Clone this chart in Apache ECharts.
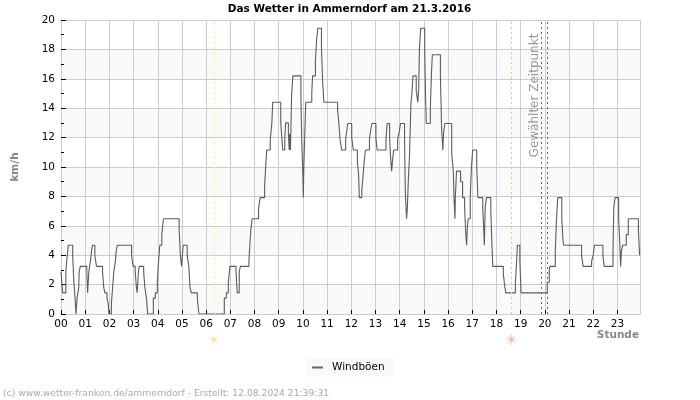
<!DOCTYPE html>
<html><head><meta charset="utf-8">
<style>html,body{margin:0;padding:0;background:#fff}#c{width:700px;height:400px}</style>
<script src="https://cdn.jsdelivr.net/npm/echarts@6/dist/echarts.min.js"></script></head>
<body><div id="c"></div>
<script>
const titleText = 'Das Wetter in Ammerndorf am 21.3.2016';
const seriesName = 'Windböen';
const footerText = '(c) www.wetter-franken.de/ammerndorf - Erstellt: 12.08.2024 21:39:31';
const markerLabel = 'Gewählter Zeitpunkt';
const sunrise = 379, sunset = 1117, selectedA = 1192, selectedB = 1205;
// minutes of the day at which the gust reading changes
const minutes = [0,4,12,14,17,18,29,32,35,37,40,44,45,48,64,66,69,73,76,78,84,88,103,106,109,114,117,119,
125,128,131,135,137,140,175,179,184,187,189,192,194,205,208,212,215,229,234,239,241,245,250,254,293,296,299,301,303,313,317,320,323,338,342,
405,410,415,419,434,437,442,445,466,469,471,474,490,494,505,507,510,519,523,525,545,548,550,555,557,564,566,567,569,572,575,595,597,600,601,602,605,607,622,624,631,634,637,646,649,652,
686,689,692,696,706,709,711,721,725,735,738,740,746,749,752,755,765,768,771,781,784,806,809,815,817,820,822,825,835,839,842,852,854,857,859,862,864,868,870,873,881,885,887,889,892,902,904,906,916,919,921,941,944,947,949,952,
969,973,975,977,978,981,991,996,1001,1004,1006,1008,1010,1015,1018,1021,1031,1034,1046,1049,1050,1052,1055,1066,1069,1071,1097,1101,1103,1127,1130,1132,1138,1141,1206,1211,1212,1226,1229,1232,1242,1245,1247,1291,1295,1316,1320,1323,1344,1347,1369,1371,1374,1383,1386,1388,1390,1393,1402,1407,1432,1435];
const gusts = [2.88,1.44,2.88,3.6,4.32,4.68,3.96,2.16,1.08,0,1.08,1.8,2.88,3.24,2.88,1.44,2.88,3.6,4.32,4.68,3.96,3.24,2.88,1.8,1.44,1.08,0.72,0,
0.72,1.8,2.88,3.6,4.32,4.68,3.96,3.24,2.88,1.8,1.44,2.88,3.24,2.88,1.8,1.08,0,1.08,1.44,2.16,3.24,4.68,5.4,6.48,5.76,4,3.24,4,4.68,3.96,3.24,1.8,1.44,1.08,0,
1.08,1.44,2.16,3.24,2.88,1.44,2.88,3.24,3.6,5,5.76,6.48,7.2,7.92,8.7,9.72,11.16,11.88,13,14.4,13,11.88,11.16,11.88,13,12.24,11.16,12.24,11.16,14.9,16.2,14.8,11.9,9.36,7.92,9.72,12.6,14.4,15.1,16.2,17.2,18.7,19.44,18,15.8,14.4,
13.9,13,11.9,11.16,11.9,12.5,12.96,12,11.16,10.4,9.5,7.92,8.4,9.36,10.4,11.16,11.9,12.5,12.96,12,11.16,11.9,12.96,12,10.8,9.72,10.4,11.16,11.9,12.4,12.96,11.9,8.3,6.48,7.2,9.5,10.5,14.4,14.9,16.2,15.2,14.4,15.2,18,19.44,18,15,12.96,14,16.5,17.64,16.2,12.6,11.16,12.4,12.96,
10.9,9.72,7.7,6.48,7.92,9.72,9,7.92,7.2,5.4,4.68,6,6.48,7.92,10,11.16,10,7.92,7.2,5.4,4.68,7.2,7.92,7,4.5,3.24,2.7,1.8,1.44,2.1,3.6,4.68,3.6,1.44,2.16,2.88,3.24,4.32,6.5,7.92,6.5,5,4.68,4,3.24,3.6,4,4.68,4,3.24,4.32,7.2,7.92,6.5,4.68,3.24,4.3,4.68,5.4,6.48,5.76,4];
const points = minutes.map((m,i)=>[m,gusts[i]]);
const chart = echarts.init(document.getElementById('c'),null,{renderer:'canvas'});
const FONT='DejaVu Sans';
function vline(x,color){return {xAxis:x,lineStyle:{color:color,type:[2,3],width:1}};}
chart.setOption({
  animation:false,
  backgroundColor:'#fff',
  title:[
    {text:titleText,left:349.5,textAlign:'center',top:4,padding:0,textStyle:{fontFamily:FONT,fontSize:10.5,fontWeight:'bold',color:'#000'}},
    {text:footerText,left:3,top:389,padding:0,textStyle:{fontFamily:FONT,fontSize:9.2,fontWeight:'normal',color:'#aaa'}}
  ],
  legend:{data:[{name:seriesName,icon:'rect',itemStyle:{color:'#666'}}],left:307,top:358,itemWidth:11,itemHeight:2,itemGap:4,
    padding:[4,9,4,5],backgroundColor:'#f9f9f9',textStyle:{fontFamily:FONT,fontSize:10.5,color:'#000',padding:[0,0,0,4]}},
  grid:{left:61,right:60,top:20,bottom:86},
  xAxis:{type:'value',min:0,max:1436,interval:60,
    name:'Stunde',nameLocation:'end',nameGap:0,
    nameTextStyle:{fontFamily:FONT,fontSize:10.5,fontWeight:'bold',color:'#888',align:'right',verticalAlign:'top',padding:[16,1,0,0]},
    axisLine:{show:true,lineStyle:{color:'#ccc'}},
    axisTick:{show:true,inside:true,length:4,lineStyle:{color:'#000'}},
    axisLabel:{fontFamily:FONT,fontSize:10.5,color:'#000',margin:5,showMaxLabel:false,
      formatter:v=>String(v/60).padStart(2,'0')},
    splitLine:{show:true,lineStyle:{color:'#ccc',width:1}}},
  yAxis:{type:'value',min:0,max:20,interval:2,
    name:'km/h',nameLocation:'middle',nameGap:40,nameRotate:90,
    nameTextStyle:{fontFamily:FONT,fontSize:10.5,fontWeight:'bold',color:'#888'},
    axisLine:{show:true,lineStyle:{color:'#ccc'}},
    axisTick:{show:true,inside:true,length:5,lineStyle:{color:'#000'}},
    minorTick:{show:true,splitNumber:2,length:3,lineStyle:{color:'#000'}},
    axisLabel:{fontFamily:FONT,fontSize:10.5,color:'#000',margin:6},
    splitLine:{show:true,lineStyle:{color:'#ccc',width:1}},
    splitArea:{show:true,areaStyle:{color:['#f9f9f9','#ffffff']}}},
  series:[{name:seriesName,type:'line',step:'end',data:points,showSymbol:false,
    lineStyle:{color:'#5c5c5c',width:1.1},itemStyle:{color:'#666'},
    markLine:{silent:true,symbol:'none',label:{show:false},animation:false,
      data:[vline(sunrise,'#f5f07a'),vline(sunset,'#f2c27e'),vline(selectedA,'#666'),vline(selectedB,'#666')]}}]
});
const sx0=chart.convertToPixel({xAxisIndex:0},sunrise), sx1=chart.convertToPixel({xAxisIndex:0},sunset);
chart.setOption({graphic:[
  {type:'text',x:sx0,y:341,style:{text:'☀',fontFamily:FONT,fontSize:15,fill:'#fde7a0',align:'center',verticalAlign:'middle'}},
  {type:'text',x:sx1,y:341,style:{text:'☀',fontFamily:FONT,fontSize:15,fill:'#ffb5a0',align:'center',verticalAlign:'middle'}},
  {type:'text',x:534.5,y:95.5,rotation:Math.PI/2,style:{text:markerLabel,fontFamily:FONT,fontSize:12,fill:'#999',align:'center',verticalAlign:'middle'}}
]});
</script></body></html>
